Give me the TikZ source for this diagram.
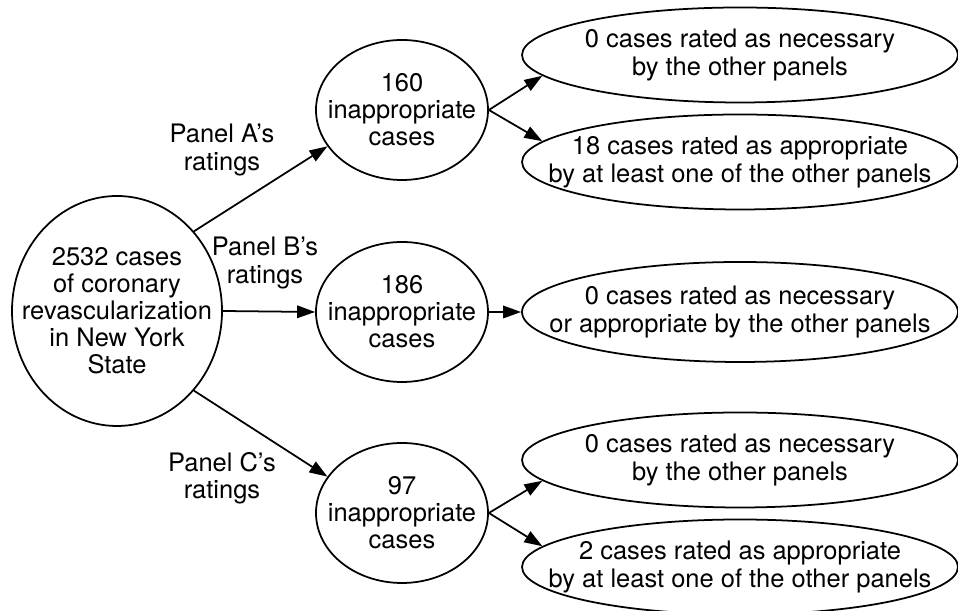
\documentclass[tikz,border=0pt]{standalone}
\usepackage{fontspec}
\setmainfont{TeX Gyre Heros}
\usepackage{tikz}
\usetikzlibrary{shapes.geometric}
\usetikzlibrary{arrows.meta}
\tikzset{
  casetext/.style = {align=center, font=\fontsize{14.5pt}{15.4pt}\selectfont},
  casebox/.style = {draw, ellipse, line width=1pt, inner sep=0pt,
                    label={[casetext]center:#1}},
  outcome/.style = {casebox=#1, minimum width=8.72cm, minimum height=1.9cm},
  panelbox/.style = {casebox=#1, minimum width=3.44cm, minimum height=2.8cm},
  flow/.style = {line width=1pt, -{Triangle[length=0.36cm,width=0.25cm]}}
}

\begin{document}
\begin{tikzpicture}
\useasboundingbox (0,0) rectangle (19.16,12.22);

\node[casebox={2532 cases\\of coronary\\revascularization\\in New York\\State},
      minimum width=4.2cm, minimum height=4.6cm] (all) at (2.34,6.0) {};

\node[panelbox={160\\inappropriate\\cases}] (pa) at (8.04,10.02) {};
\node[panelbox={186\\inappropriate\\cases}] (pb) at (8.04,5.98) {};
\node[panelbox={97\\inappropriate\\cases}] (pc) at (8.04,1.96) {};

\node[outcome={0 cases rated as necessary\\by the other panels}] (pa1) at (14.8,11.12) {};
\node[outcome={18 cases rated as appropriate\\by at least one of the other panels}] (pa2) at (14.8,8.98) {};
\node[outcome={0 cases rated as necessary\\or appropriate by the other panels},
      minimum height=2cm] (pb1) at (14.8,5.98) {};
\node[outcome={0 cases rated as necessary\\by the other panels}] (pc1) at (14.8,3.02) {};
\node[outcome={2 cases rated as appropriate\\by at least one of the other panels}] (pc2) at (14.8,0.88) {};

% panel labels
\node[casetext] (la) at (4.44,9.22) {Panel A's\\ratings};
\node[casetext] (lb) at (5.3,6.96) {Panel B's\\ratings};
\node[casetext] (lc) at (4.44,2.66) {Panel C's\\ratings};

\draw[flow] (all.46) -- (pa.206);
\draw[flow] (all.east) -- (pb.west);
\draw[flow] (all.-46) -- (pc.154);

\draw[flow] (pa.east) -- (pa1.186);
\draw[flow] (pa.east) -- (pa2.174);
\draw[flow] (pb.east) -- (pb1.west);
\draw[flow] (pc.east) -- (pc1.186);
\draw[flow] (pc.east) -- (pc2.174);
\end{tikzpicture}
\end{document}
